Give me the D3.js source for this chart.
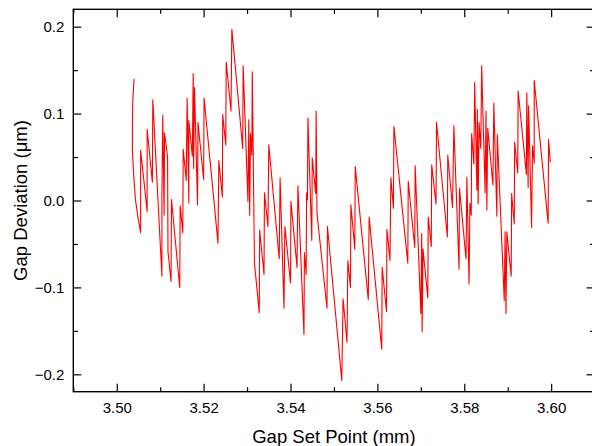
<!DOCTYPE html>
<html>
<head>
<meta charset="utf-8">
<script src="https://cdn.jsdelivr.net/npm/d3@7"></script>
<style>
  body { margin: 0; background: #fff; }
  svg { display: block; font-family: Arial, "Liberation Sans", sans-serif; }
</style>
</head>
<body>
<svg id="chart" width="592" height="446"></svg>
<script>
// values
var gapSetPoint = [
  3.5040, 3.5037, 3.5036, 3.5036, 3.5039, 3.5043, 3.5049, 3.5055,
  3.5055, 3.5070, 3.5070, 3.5082, 3.5083, 3.5104, 3.5104, 3.5106,
  3.5109, 3.5110, 3.5117, 3.5118, 3.5125, 3.5126, 3.5145, 3.5146,
  3.5152, 3.5153, 3.5160, 3.5162, 3.5166, 3.5166, 3.5174, 3.5176,
  3.5177, 3.5179, 3.5186, 3.5187, 3.5200, 3.5201, 3.5233, 3.5235,
  3.5243, 3.5244, 3.5251, 3.5252, 3.5263, 3.5265, 3.5290, 3.5291,
  3.5302, 3.5304, 3.5306, 3.5308, 3.5311, 3.5312, 3.5317, 3.5328,
  3.5329, 3.5339, 3.5340, 3.5348, 3.5350, 3.5374, 3.5376, 3.5385,
  3.5387, 3.5400, 3.5401, 3.5415, 3.5417, 3.5431, 3.5432, 3.5436,
  3.5437, 3.5439, 3.5440, 3.5449, 3.5450, 3.5458, 3.5459, 3.5461,
  3.5484, 3.5485, 3.5518, 3.5521, 3.5530, 3.5532, 3.5538, 3.5539,
  3.5548, 3.5549, 3.5579, 3.5581, 3.5610, 3.5611, 3.5621, 3.5622,
  3.5629, 3.5631, 3.5637, 3.5638, 3.5670, 3.5671, 3.5686, 3.5687,
  3.5700, 3.5702, 3.5703, 3.5705, 3.5716, 3.5717, 3.5724, 3.5725,
  3.5735, 3.5736, 3.5761, 3.5762, 3.5773, 3.5776, 3.5788, 3.5789,
  3.5804, 3.5806, 3.5811, 3.5813, 3.5816, 3.5817, 3.5822, 3.5824,
  3.5829, 3.5830, 3.5832, 3.5834, 3.5838, 3.5840, 3.5848, 3.5850,
  3.5852, 3.5854, 3.5866, 3.5868, 3.5875, 3.5876, 3.5892, 3.5894,
  3.5896, 3.5898, 3.5908, 3.5909, 3.5915, 3.5916, 3.5923, 3.5924,
  3.5943, 3.5944, 3.5947, 3.5948, 3.5955, 3.5957, 3.5961, 3.5961,
  3.5993, 3.5994, 3.5998
]

var gapDeviation = [
  0.140, 0.116, 0.087, 0.058, 0.029, 0.001, -0.020, -0.037,
  0.058, -0.013, 0.082, 0.021, 0.116, -0.087, 0.008, 0.098,
  -0.017, 0.078, 0.050, -0.059, -0.093, 0.001, -0.100, -0.006,
  -0.037, 0.059, 0.023, 0.118, -0.003, 0.092, 0.051, 0.146,
  0.037, 0.130, -0.005, 0.090, 0.024, 0.118, -0.049, 0.046,
  0.004, 0.099, 0.064, 0.159, 0.103, 0.197, 0.060, 0.155,
  -0.001, 0.093, -0.017, 0.077, 0.052, 0.148, -0.072, -0.129,
  -0.034, -0.085, 0.009, -0.030, 0.064, -0.067, 0.026, -0.124,
  -0.030, -0.095, -0.001, -0.077, 0.017, -0.154, -0.060, -0.085,
  0.009, 0.001, 0.095, -0.046, 0.049, 0.008, 0.103, -0.015,
  -0.124, -0.030, -0.207, -0.113, -0.163, -0.069, -0.100, -0.005,
  -0.056, 0.039, -0.114, -0.019, -0.171, -0.077, -0.128, -0.033,
  -0.069, 0.026, -0.009, 0.085, -0.072, 0.022, -0.054, 0.040,
  -0.130, -0.038, -0.151, -0.056, -0.112, -0.019, -0.053, 0.041,
  -0.004, 0.090, -0.042, 0.052, -0.008, 0.086, -0.079, 0.014,
  -0.067, 0.027, -0.096, -0.003, -0.017, 0.077, 0.042, 0.136,
  0.012, 0.105, -0.004, 0.090, 0.060, 0.155, 0.009, 0.103,
  -0.011, 0.083, 0.018, 0.112, -0.018, 0.076, -0.115, -0.036,
  -0.130, -0.036, -0.087, 0.008, -0.027, 0.067, 0.032, 0.126,
  0.030, 0.124, 0.015, 0.109, -0.031, 0.063, 0.043, 0.138,
  -0.026, 0.070, 0.044
]

var xTicks = [3.50, 3.52, 3.54, 3.56, 3.58, 3.60]
var xMinorTicks = [3.49, 3.51, 3.53, 3.55, 3.57, 3.59]
var yTicks = [-0.2, -0.1, 0.0, 0.1, 0.2]
var yMinorTicks = [-0.15, -0.05, 0.05, 0.15]

var svg = d3.select('#chart')

var x = d3.scaleLinear().domain([3.49, 3.61]).range([73.3, 594.6])
var y = d3.scaleLinear().domain([-0.22, 0.22]).range([391.7, 9.3])

var points = gapSetPoint.map(function (d, i) {
  return [d, gapDeviation[i]]
})

// data line
svg.append('path')
  .datum(points)
  .attr('fill', 'none')
  .attr('stroke', '#ff0000')
  .attr('stroke-width', 1.1)
  .attr('stroke-linejoin', 'round')
  .attr('d', d3.line()
    .x(function (d) { return x(d[0]) })
    .y(function (d) { return y(d[1]) }))

function styleAxis (g) {
  g.select('.domain').remove()
  g.selectAll('line').attr('stroke', '#000').attr('stroke-width', 1.2)
  g.selectAll('text').attr('fill', '#000').style('font-size', '15px')
}

// bottom
svg.append('g')
  .attr('transform', 'translate(0,' + y.range()[0] + ')')
  .call(d3.axisBottom(x).tickValues(xTicks).tickSize(-8).tickPadding(11)
    .tickFormat(d3.format('.2f')))
  .call(styleAxis)
svg.append('g')
  .attr('transform', 'translate(0,' + y.range()[0] + ')')
  .call(d3.axisBottom(x).tickValues(xMinorTicks).tickSize(-4.5).tickFormat(''))
  .call(styleAxis)

// top
svg.append('g')
  .attr('transform', 'translate(0,' + y.range()[1] + ')')
  .call(d3.axisTop(x).tickValues(xTicks).tickSize(-8).tickFormat(''))
  .call(styleAxis)
svg.append('g')
  .attr('transform', 'translate(0,' + y.range()[1] + ')')
  .call(d3.axisTop(x).tickValues(xMinorTicks).tickSize(-4.5).tickFormat(''))
  .call(styleAxis)

// left
svg.append('g')
  .attr('transform', 'translate(' + x.range()[0] + ',0)')
  .call(d3.axisLeft(y).tickValues(yTicks).tickSize(-8).tickPadding(9)
    .tickFormat(d3.format('.1f')))
  .call(styleAxis)
svg.append('g')
  .attr('transform', 'translate(' + x.range()[0] + ',0)')
  .call(d3.axisLeft(y).tickValues(yMinorTicks).tickSize(-4.5).tickFormat(''))
  .call(styleAxis)

// right
svg.append('g')
  .attr('transform', 'translate(' + x.range()[1] + ',0)')
  .call(d3.axisRight(y).tickValues(yTicks).tickSize(-8).tickFormat(''))
  .call(styleAxis)
svg.append('g')
  .attr('transform', 'translate(' + x.range()[1] + ',0)')
  .call(d3.axisRight(y).tickValues(yMinorTicks).tickSize(-4.5).tickFormat(''))
  .call(styleAxis)

// frame
svg.append('rect')
  .attr('x', x.range()[0])
  .attr('y', y.range()[1])
  .attr('width', x.range()[1] - x.range()[0])
  .attr('height', y.range()[0] - y.range()[1])
  .attr('fill', 'none')
  .attr('stroke', '#000')
  .attr('stroke-width', 1.4)

// axis titles
svg.append('text')
  .attr('x', (x.range()[0] + x.range()[1]) / 2)
  .attr('y', 442.5)
  .attr('text-anchor', 'middle')
  .style('font-size', '18.5px')
  .text('Gap Set Point (mm)')

svg.append('text')
  .attr('transform', 'translate(27,' + y(0) + ') rotate(-90)')
  .attr('text-anchor', 'middle')
  .style('font-size', '18.5px')
  .text('Gap Deviation (\u03bcm)')
</script>
</body>
</html>
